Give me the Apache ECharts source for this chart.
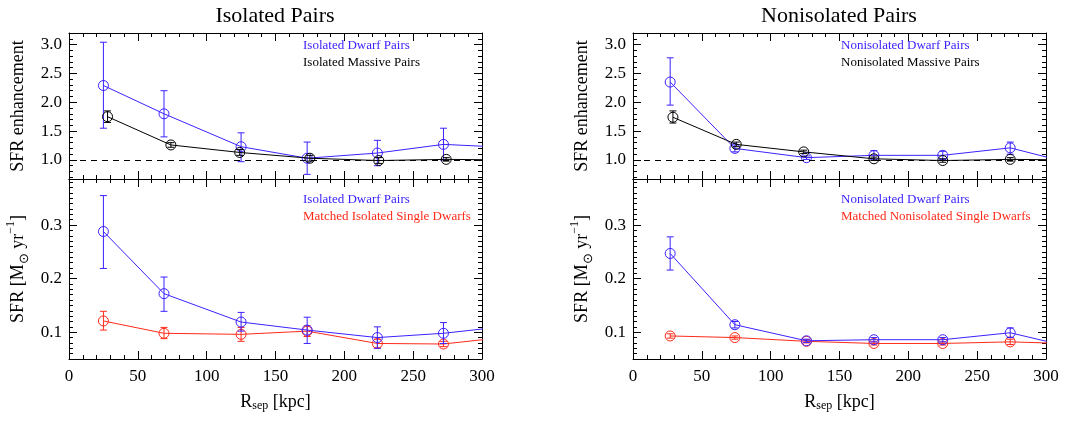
<!DOCTYPE html>
<html><head><meta charset="utf-8">
<script src="https://cdn.jsdelivr.net/npm/echarts@6/dist/echarts.min.js"></script>
<style>html,body{margin:0;padding:0;background:#fff}#c{width:1065px;height:423px}</style>
</head><body><div id="c"></div>
<script>
const FONT = 'Liberation Serif';
const BLUE = '#3b22ff', RED = '#ff2a1a', BLACK = '#000000';

// ---- Isolated, SFR enhancement ----
const isoEnhDwarfX  = [25, 69, 125, 173, 224, 272, 325];
const isoEnhDwarfY  = [2.29, 1.80, 1.23, 1.03, 1.12, 1.27, 1.21];
const isoEnhDwarfLo = [1.55, 1.40, 0.97, 0.75, 0.90, 1.00];
const isoEnhDwarfHi = [3.04, 2.20, 1.47, 1.31, 1.34, 1.55];
const isoEnhMassX   = [28, 74, 124, 175, 225, 274, 325];
const isoEnhMassY   = [1.75, 1.26, 1.13, 1.03, 0.99, 1.01, 1.00];
const isoEnhMassLo  = [1.65, 1.22, 1.08, 0.98, 0.94, 0.98];
const isoEnhMassHi  = [1.85, 1.30, 1.18, 1.08, 1.04, 1.04];

// ---- Isolated, SFR ----
const isoSfrDwarfX  = [25, 69, 125, 173, 224, 272, 325];
const isoSfrDwarfY  = [0.288, 0.172, 0.119, 0.104, 0.090, 0.098, 0.113];
const isoSfrDwarfLo = [0.219, 0.139, 0.102, 0.079, 0.070, 0.079];
const isoSfrDwarfHi = [0.355, 0.203, 0.137, 0.128, 0.110, 0.118];
const isoSfrSingX   = [25, 69, 125, 173, 224, 272, 325];
const isoSfrSingY   = [0.121, 0.098, 0.096, 0.102, 0.079, 0.078, 0.093];
const isoSfrSingLo  = [0.104, 0.088, 0.083, 0.092, 0.071, 0.073];
const isoSfrSingHi  = [0.139, 0.109, 0.109, 0.112, 0.087, 0.083];

// ---- Nonisolated, SFR enhancement ----
const nonEnhDwarfX  = [27, 74, 126, 175, 225, 274, 325];
const nonEnhDwarfY  = [2.35, 1.20, 1.04, 1.08, 1.08, 1.21, 0.90];
const nonEnhDwarfLo = [1.95, 1.14, 1.01, 1.00, 1.01, 1.10];
const nonEnhDwarfHi = [2.77, 1.26, 1.07, 1.16, 1.15, 1.31];
const nonEnhMassX   = [29, 75, 124, 175, 225, 274, 325];
const nonEnhMassY   = [1.74, 1.27, 1.14, 1.02, 0.99, 1.01, 1.00];
const nonEnhMassLo  = [1.64, 1.23, 1.11, 0.99, 0.96, 0.98];
const nonEnhMassHi  = [1.85, 1.31, 1.17, 1.05, 1.02, 1.04];

// ---- Nonisolated, SFR ----
const nonSfrDwarfX  = [27, 74, 126, 175, 225, 274, 325];
const nonSfrDwarfY  = [0.247, 0.114, 0.084, 0.086, 0.086, 0.099, 0.068];
const nonSfrDwarfLo = [0.216, 0.108, 0.081, 0.082, 0.082, 0.090];
const nonSfrDwarfHi = [0.278, 0.120, 0.087, 0.090, 0.090, 0.108];
const nonSfrSingX   = [27, 74, 126, 175, 225, 274, 325];
const nonSfrSingY   = [0.093, 0.090, 0.083, 0.079, 0.079, 0.082, 0.078];
const nonSfrSingLo  = [0.089, 0.087, 0.080, 0.076, 0.076, 0.077];
const nonSfrSingHi  = [0.097, 0.093, 0.086, 0.082, 0.082, 0.087];

// ---- tick labels ----
const enhTicks = [1.0, 1.5, 2.0, 2.5, 3.0];
const sfrTicks = [0.1, 0.2, 0.3];

const titles = ['Isolated Pairs', 'Nonisolated Pairs'];
const legendTexts = [
  ['Isolated Dwarf Pairs', 'Isolated Massive Pairs'],
  ['Isolated Dwarf Pairs', 'Matched Isolated Single Dwarfs'],
  ['Nonisolated Dwarf Pairs', 'Nonisolated Massive Pairs'],
  ['Nonisolated Dwarf Pairs', 'Matched Nonisolated Single Dwarfs']
];

function minors(lo, hi, step, majors) {
  const out = [];
  const n = Math.round((hi - lo) / step);
  for (let i = 0; i <= n; i++) {
    const v = +(lo + i * step).toFixed(4);
    if (!majors.some(m => Math.abs(m - v) < 1e-6)) out.push(v);
  }
  return out;
}

const grids = [
  {left: 69, top: 33, width: 413, height: 146},
  {left: 69, top: 179, width: 413, height: 180},
  {left: 633, top: 33, width: 413, height: 146},
  {left: 633, top: 179, width: 413, height: 180}
];
const panels = [
  {min: 0.67, max: 3.2, majors: enhTicks, minors: minors(0.7, 3.2, 0.1, enhTicks), top: true,
   series: [[isoEnhDwarfX, isoEnhDwarfY, isoEnhDwarfLo, isoEnhDwarfHi, BLUE], [isoEnhMassX, isoEnhMassY, isoEnhMassLo, isoEnhMassHi, BLACK]]},
  {min: 0.05, max: 0.386, majors: sfrTicks, minors: minors(0.05, 0.38, 0.01, sfrTicks), top: false,
   series: [[isoSfrSingX, isoSfrSingY, isoSfrSingLo, isoSfrSingHi, RED], [isoSfrDwarfX, isoSfrDwarfY, isoSfrDwarfLo, isoSfrDwarfHi, BLUE]]},
  {min: 0.67, max: 3.2, majors: enhTicks, minors: minors(0.7, 3.2, 0.1, enhTicks), top: true,
   series: [[nonEnhDwarfX, nonEnhDwarfY, nonEnhDwarfLo, nonEnhDwarfHi, BLUE], [nonEnhMassX, nonEnhMassY, nonEnhMassLo, nonEnhMassHi, BLACK]]},
  {min: 0.05, max: 0.386, majors: sfrTicks, minors: minors(0.05, 0.38, 0.01, sfrTicks), top: false,
   series: [[nonSfrSingX, nonSfrSingY, nonSfrSingLo, nonSfrSingHi, RED], [nonSfrDwarfX, nonSfrDwarfY, nonSfrDwarfLo, nonSfrDwarfHi, BLUE]]}
];

const xAxes = [], yAxes = [], series = [], graphics = [];
const lineBlack = {show: true, lineStyle: {color: '#000', width: 1}};

panels.forEach((p, gi) => {
  ['bottom', 'top'].forEach((pos, k) => {
    const isMain = (pos === 'bottom' && !p.top);
    xAxes.push({
      gridIndex: gi, type: 'value', position: pos, min: 0, max: 300, interval: 50,
      axisLine: lineBlack,
      axisTick: {show: true, inside: true, length: 8, lineStyle: {color: '#000'}},
      minorTick: {show: true, splitNumber: 5, length: 4, lineStyle: {color: '#000'}},
      splitLine: {show: false}, minorSplitLine: {show: false},
      axisLabel: {show: isMain, margin: 9, fontSize: 17, fontFamily: FONT, color: '#000'},
      name: isMain ? 'R{sub|sep} [kpc]' : '',
      nameLocation: 'middle', nameGap: 33,
      nameTextStyle: {fontSize: 18, fontFamily: FONT, color: '#000',
        rich: {sub: {fontSize: 12, fontFamily: FONT, color: '#000', verticalAlign: 'bottom', padding: [8, 0, 0, 0]}}}
    });
  });
  ['left', 'right'].forEach((pos) => {
    const isMain = pos === 'left';
    yAxes.push({
      gridIndex: gi, type: 'value', position: pos, min: p.min, max: p.max,
      axisLine: lineBlack,
      axisTick: {show: true, inside: true, length: 8, customValues: p.majors, lineStyle: {color: '#000'}},
      axisLabel: {show: isMain, customValues: p.majors, margin: 7, fontSize: 17, fontFamily: FONT, color: '#000',
        formatter: v => v.toFixed(1)},
      splitLine: {show: false},
      name: isMain ? (p.top ? 'SFR enhancement' : 'SFR [M{sub|⊙} yr{sup|−1}]') : '',
      nameLocation: 'middle', nameRotate: 90, nameGap: 38,
      nameTextStyle: {fontSize: 18, fontFamily: FONT, color: '#000', lineHeight: 26,
        rich: {
          sub: {fontSize: 13, fontFamily: FONT, color: '#000', verticalAlign: 'bottom'},
          sup: {fontSize: 12, fontFamily: FONT, color: '#000', verticalAlign: 'top'}
        }}
    });
    yAxes.push({
      gridIndex: gi, type: 'value', position: pos, min: p.min, max: p.max,
      axisLine: {show: false},
      axisTick: {show: true, inside: true, length: 4, customValues: p.minors, lineStyle: {color: '#000'}},
      axisLabel: {show: false}, splitLine: {show: false}
    });
  });

  p.series.forEach((s, si) => {
    const [xs, ys, lo, hi, col] = s;
    const ser = {
      type: 'line', xAxisIndex: gi * 2, yAxisIndex: gi * 4,
      data: xs.map((x, i) => [x, ys[i]]),
      symbol: 'circle', symbolSize: 10, showAllSymbol: true,
      itemStyle: {color: 'rgba(0,0,0,0)', borderColor: col, borderWidth: 1},
      lineStyle: {color: col, width: 1},
      clip: true, z: 3 + si
    };
    if (p.top && col === BLACK) {
      ser.markLine = {
        silent: true, symbol: ['none', 'none'], label: {show: false},
        lineStyle: {color: '#000', type: [6, 5], width: 1},
        data: [{yAxis: 1}]
      };
    }
    series.push(ser);
    series.push({
      type: 'custom', xAxisIndex: gi * 2, yAxisIndex: gi * 4, clip: true, z: 4 + si,
      data: lo.map((l, i) => [xs[i], l, hi[i]]),
      encode: {x: 0, y: [1, 2]},
      renderItem: (params, api) => {
        const a = api.coord([api.value(0), api.value(1)]);
        const b = api.coord([api.value(0), api.value(2)]);
        const w = 3.5;
        const st = {stroke: col, lineWidth: 1};
        return {type: 'group', children: [
          {type: 'line', shape: {x1: a[0], y1: a[1], x2: b[0], y2: b[1]}, style: st},
          {type: 'line', shape: {x1: a[0] - w, y1: a[1], x2: a[0] + w, y2: a[1]}, style: st},
          {type: 'line', shape: {x1: b[0] - w, y1: b[1], x2: b[0] + w, y2: b[1]}, style: st}
        ]};
      }
    });
  });

  const lx = gi < 2 ? 303 : 841;
  const ly = p.top ? 46 : 200;
  const cols = p.top ? [BLUE, BLACK] : [BLUE, RED];
  legendTexts[gi].forEach((t, k) => {
    graphics.push({type: 'text', x: lx, y: ly + k * 16.5, z: 10,
      style: {text: t, fill: cols[k], font: '13px "Liberation Serif"', align: 'left', verticalAlign: 'middle'}});
  });
});

titles.forEach((t, k) => {
  graphics.push({type: 'text', x: k === 0 ? 275 : 839, y: 16, z: 10,
    style: {text: t, fill: '#000', font: '22px "Liberation Serif"', align: 'center', verticalAlign: 'middle'}});
});

const chart = echarts.init(document.getElementById('c'), null, {renderer: 'canvas'});
chart.setOption({
  animation: false,
  backgroundColor: '#fff',
  grid: grids,
  xAxis: xAxes,
  yAxis: yAxes,
  series: series,
  graphic: graphics
});
</script>
</body></html>
